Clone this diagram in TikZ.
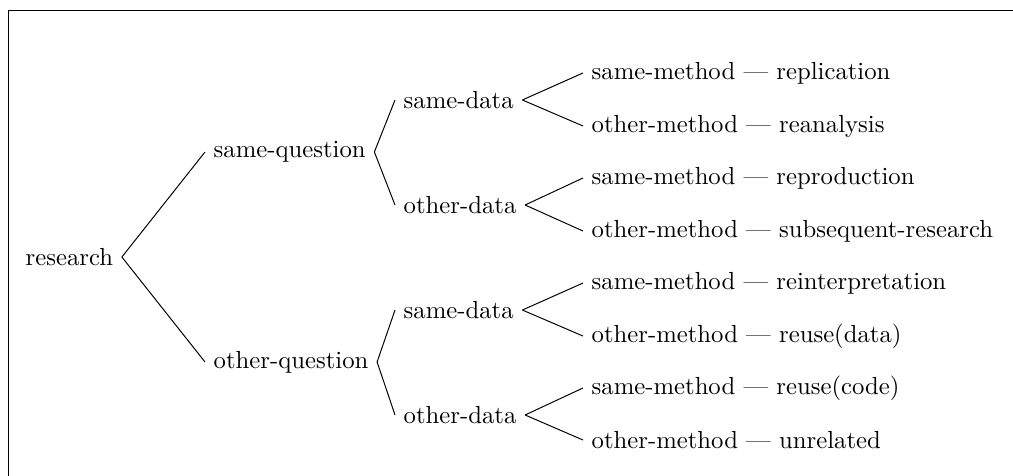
\documentclass[tikz,border=0pt]{standalone}
\usepackage{tikz}

\begin{document}
\begin{tikzpicture}[every node/.style={anchor=west}]
\useasboundingbox (0,0) rectangle (14.41,-6.77);
\draw (0.114,-6.77) -- (0.114,-0.156) -- (14.41,-0.156);

\node (res) at (0.242,-3.656) {research};

\node (sq) at (2.916,-2.162) {same-question};
\node (oq) at (2.916,-5.149) {other-question};

\node (sqsd) at (5.619,-1.422) {same-data};
\node (sqod) at (5.619,-2.916) {other-data};
\node (oqsd) at (5.619,-4.410) {same-data};
\node (oqod) at (5.619,-5.903) {other-data};

\node (l1) at (8.293,-1.038) {same-method --- replication};
\node (l2) at (8.293,-1.792) {other-method --- reanalysis};
\node (l3) at (8.293,-2.532) {same-method --- reproduction};
\node (l4) at (8.293,-3.286) {other-method --- subsequent-research};
\node (l5) at (8.293,-4.026) {same-method --- reinterpretation};
\node (l6) at (8.293,-4.780) {other-method --- reuse(data)};
\node (l7) at (8.293,-5.519) {same-method --- reuse(code)};
\node (l8) at (8.293,-6.259) {other-method --- unrelated};

\draw (res.east) -- (sq.west);
\draw (res.east) -- (oq.west);
\draw (sq.east) -- (sqsd.west);
\draw (sq.east) -- (sqod.west);
\draw (oq.east) -- (oqsd.west);
\draw (oq.east) -- (oqod.west);
\draw (sqsd.east) -- (l1.west);
\draw (sqsd.east) -- (l2.west);
\draw (sqod.east) -- (l3.west);
\draw (sqod.east) -- (l4.west);
\draw (oqsd.east) -- (l5.west);
\draw (oqsd.east) -- (l6.west);
\draw (oqod.east) -- (l7.west);
\draw (oqod.east) -- (l8.west);
\end{tikzpicture}
\end{document}
